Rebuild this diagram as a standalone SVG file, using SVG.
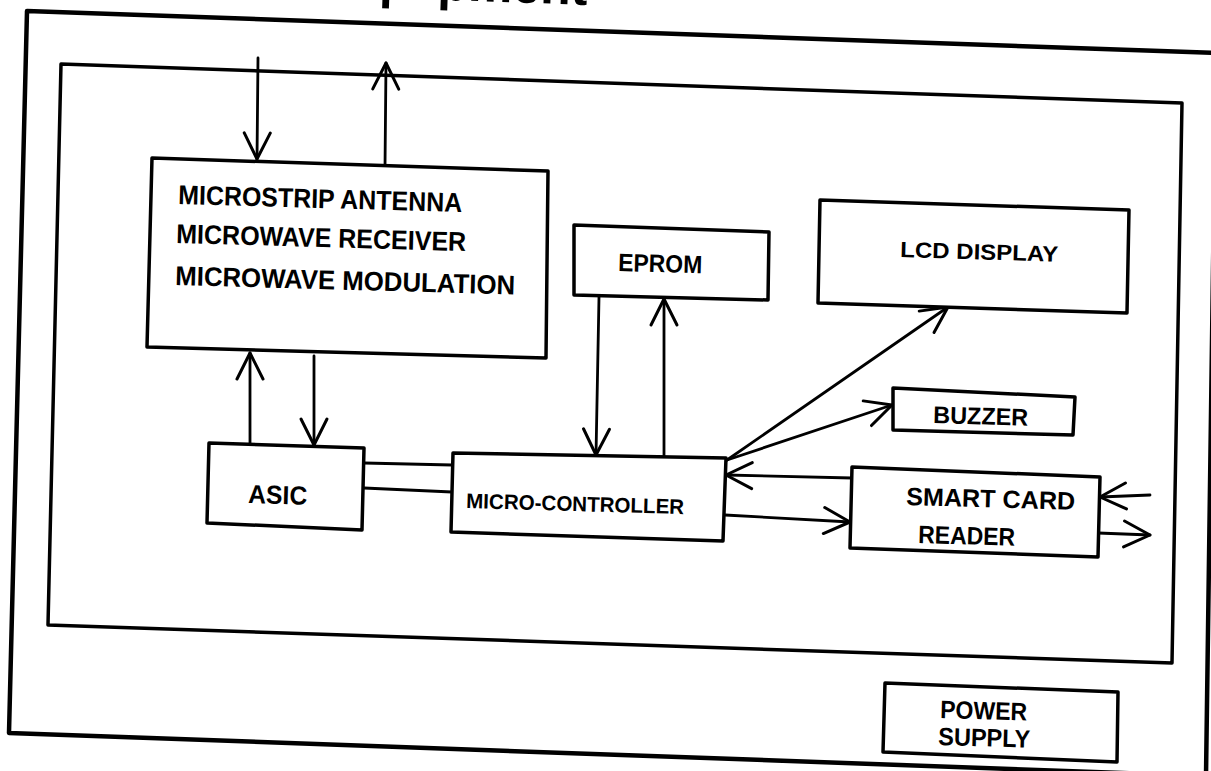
<svg xmlns="http://www.w3.org/2000/svg" width="1211" height="771" viewBox="0 0 1211 771">
<style>
.frame{fill:none;stroke:#000;stroke-width:4.5;stroke-linejoin:round}
.inner{fill:none;stroke:#000;stroke-width:3.5;stroke-linejoin:round}
.box{fill:#fff;stroke:#000;stroke-width:3.5;stroke-linejoin:round}
.wire{fill:none;stroke:#000;stroke-width:2.8;stroke-linecap:round}
.arr{marker-end:url(#ah)}
text{font-family:"Liberation Sans",Arial,Helvetica,sans-serif;font-weight:bold;fill:#000}
</style>
<defs>
<marker id="ah" markerUnits="userSpaceOnUse" viewBox="-3 -3 34 32" markerWidth="34" markerHeight="32" refX="26" refY="13" orient="auto">
<path d="M0,0 L26,13 L0,26" fill="none" stroke="#000" stroke-width="3" stroke-linecap="round" stroke-linejoin="round"/>
</marker>
</defs>
<rect width="1211" height="771" fill="#fff"/>
<text x="329" y="-2" font-size="50" transform="rotate(2 387 -2)">Equipment</text>
<g id="frame">
<polygon class="frame" points="27,11 1216,53 1206,776 9,733"/>
<polygon class="inner" points="61,64 1182,103 1172,663 48,625"/>
</g>
<g id="connectors">
<line class="wire arr" x1="258" y1="58" x2="257" y2="159"/>
<line class="wire arr" x1="385" y1="167" x2="386" y2="63"/>
<line class="wire arr" x1="250" y1="443" x2="250" y2="353"/>
<line class="wire arr" x1="314" y1="356" x2="314" y2="445"/>
<line class="wire" x1="364" y1="463" x2="452" y2="465"/>
<line class="wire" x1="364" y1="488" x2="452" y2="492"/>
<line class="wire arr" x1="599" y1="297" x2="596" y2="455"/>
<line class="wire arr" x1="664" y1="457" x2="664" y2="299"/>
<line class="wire arr" x1="727" y1="460" x2="948" y2="307"/>
<line class="wire arr" x1="727" y1="460" x2="892" y2="405"/>
<line class="wire arr" x1="852" y1="478" x2="726" y2="475"/>
<line class="wire arr" x1="725" y1="515" x2="850" y2="522"/>
<line class="wire arr" x1="1150" y1="495" x2="1100" y2="497"/>
<line class="wire arr" x1="1098" y1="533" x2="1150" y2="535"/>
</g>
<g id="antenna">
<polygon class="box" points="152,158 548,171 546,358 147,347"/>
<text x="178" y="204" font-size="27" textLength="284" lengthAdjust="spacingAndGlyphs" transform="rotate(1.6 178 204)">MICROSTRIP ANTENNA</text>
<text x="176" y="243" font-size="27" textLength="290" lengthAdjust="spacingAndGlyphs" transform="rotate(1.6 176 243)">MICROWAVE RECEIVER</text>
<text x="175" y="285" font-size="27" textLength="340" lengthAdjust="spacingAndGlyphs" transform="rotate(1.6 175 285)">MICROWAVE MODULATION</text>
</g>
<g id="eprom">
<polygon class="box" points="574,225 769,232 768,300 574,295"/>
<text x="618" y="271" font-size="25" textLength="84" lengthAdjust="spacingAndGlyphs" transform="rotate(1.6 618 271)">EPROM</text>
</g>
<g id="lcd">
<polygon class="box" points="820,200 1129,210 1127,313 818,303"/>
<text x="900" y="257" font-size="22" textLength="158" lengthAdjust="spacingAndGlyphs" transform="rotate(1.7 900 257)">LCD DISPLAY</text>
</g>
<g id="asic">
<polygon class="box" points="209,443 364,448 362,530 207,523"/>
<text x="248" y="503" font-size="26" textLength="59" lengthAdjust="spacingAndGlyphs" transform="rotate(1.6 248 503)">ASIC</text>
</g>
<g id="microcontroller">
<polygon class="box" points="453,453 726,458 723,541 451,532"/>
<text x="466" y="508" font-size="21" textLength="218" lengthAdjust="spacingAndGlyphs" transform="rotate(1.6 466 508)">MICRO-CONTROLLER</text>
</g>
<g id="buzzer">
<polygon class="box" points="893,388 1075,397 1073,435 893,430"/>
<text x="933" y="423" font-size="24" textLength="95" lengthAdjust="spacingAndGlyphs" transform="rotate(1.6 933 423)">BUZZER</text>
</g>
<g id="smartcard">
<polygon class="box" points="852,467 1100,477 1098,557 850,548"/>
<text x="906" y="505" font-size="25" textLength="169" lengthAdjust="spacingAndGlyphs" transform="rotate(1.6 906 505)">SMART CARD</text>
<text x="918" y="543" font-size="25" textLength="97" lengthAdjust="spacingAndGlyphs" transform="rotate(1.6 918 543)">READER</text>
</g>
<g id="power">
<polygon class="box" points="885,683 1118,692 1117,762 883,752"/>
<text x="940" y="718" font-size="25" textLength="87" lengthAdjust="spacingAndGlyphs" transform="rotate(1.6 940 718)">POWER</text>
<text x="938" y="745" font-size="25" textLength="92" lengthAdjust="spacingAndGlyphs" transform="rotate(1.6 938 745)">SUPPLY</text>
</g>
</svg>
